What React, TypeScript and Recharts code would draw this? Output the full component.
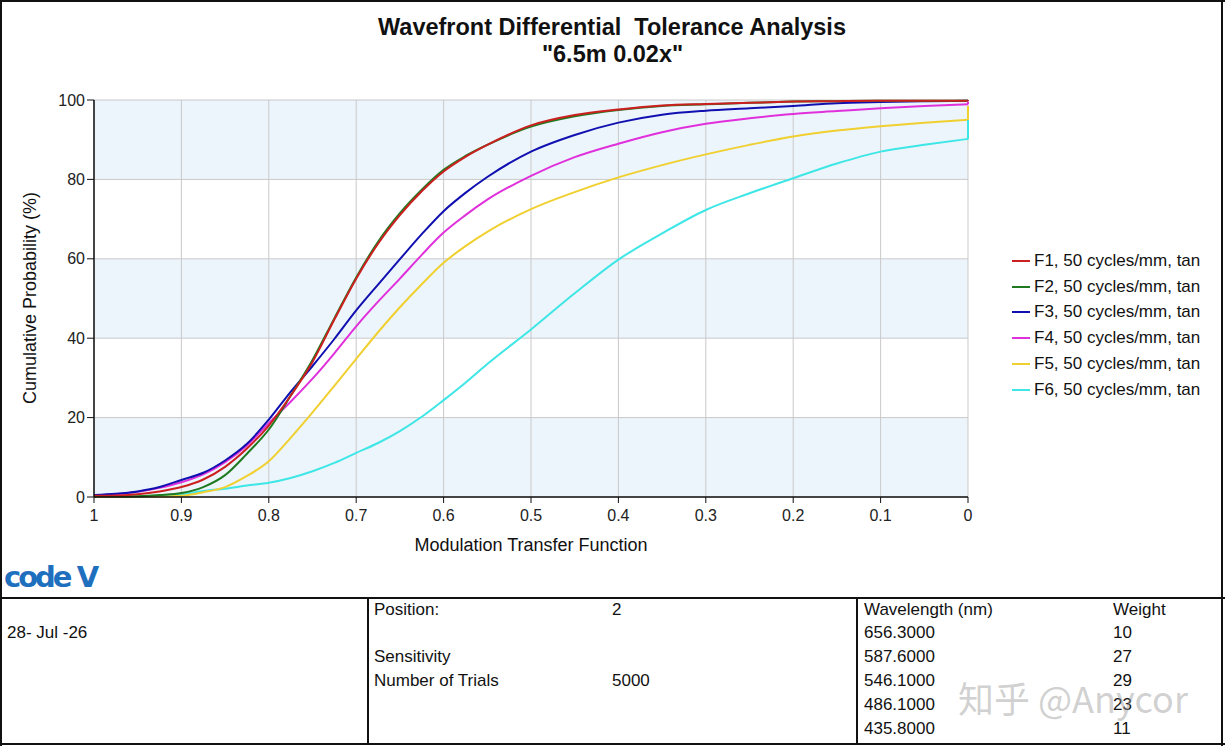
import React from 'react';
import { LineChart, Line, XAxis, YAxis, CartesianGrid, Legend } from 'recharts';

const FONT = '"Liberation Sans", Arial, sans-serif';

// MTF sample points (x axis runs from 1 down to 0)
const MTF = [
  1, 0.975, 0.95, 0.925, 0.9, 0.875, 0.85, 0.825, 0.8, 0.775, 0.75, 0.725, 0.7, 0.675, 0.65,
  0.625, 0.6, 0.575, 0.55, 0.5, 0.45, 0.4, 0.35, 0.3, 0.25, 0.2, 0.15, 0.1, 0.05, 0,
];

// cumulative probability (%) per field
const F1 = [
  0.3, 0.4, 0.7, 1.4, 2.5, 4.4, 7.6, 12.2, 18.0, 25.5, 34.0, 44.7, 55.0, 63.8, 71.0,
  77.0, 82.0, 85.7, 88.7, 93.6, 96.2, 97.6, 98.6, 99.0, 99.3, 99.6, 99.7, 99.8, 99.8, 99.8,
];
const F2 = [
  0.1, 0.1, 0.2, 0.5, 1.0, 2.5, 5.5, 10.9, 17.0, 25.5, 34.5, 45.0, 55.3, 64.3, 71.5,
  77.4, 82.4, 85.9, 88.7, 93.3, 95.9, 97.5, 98.5, 98.9, 99.3, 99.6, 99.7, 99.8, 99.8, 99.8,
];
const F3 = [
  0.5, 0.8, 1.4, 2.5, 4.3, 6.1, 9.2, 13.4, 19.5, 26.5, 33.0, 39.8, 47.0, 53.5, 59.9,
  66.2, 72.0, 76.6, 80.6, 87.0, 91.2, 94.3, 96.3, 97.3, 97.9, 98.5, 99.2, 99.5, 99.7, 99.8,
];
const F4 = [
  0.4, 0.7, 1.3, 2.3, 3.7, 5.7, 8.8, 13.0, 18.6, 24.0, 29.8, 36.2, 43.0, 49.2, 55.0,
  61.0, 66.6, 71.0, 74.9, 80.9, 85.6, 89.0, 91.9, 94.0, 95.4, 96.5, 97.2, 97.9, 98.5, 98.9,
];
const F5 = [
  0, 0, 0.05, 0.1, 0.3, 1.2, 2.5, 5.3, 9.0, 14.9, 21.3, 28.0, 34.8, 41.5, 47.8,
  53.6, 59.0, 63.2, 66.8, 72.5, 76.8, 80.5, 83.6, 86.3, 88.7, 90.8, 92.3, 93.4, 94.3, 95.0,
];
const F6 = [
  0, 0.05, 0.1, 0.3, 0.7, 1.5, 2.1, 2.9, 3.6, 4.8, 6.5, 8.6, 11.1, 13.6, 16.6,
  20.2, 24.4, 28.8, 33.5, 42.2, 51.3, 59.8, 66.4, 72.3, 76.5, 80.3, 84.0, 87.0, 88.7, 90.2,
];
// value each curve jumps to at MTF = 0
const END_VALUES = [100, 100, 100, 99.6, 98.5, 95];

const SERIES_NAMES = [
  'F1, 50 cycles/mm, tan',
  'F2, 50 cycles/mm, tan',
  'F3, 50 cycles/mm, tan',
  'F4, 50 cycles/mm, tan',
  'F5, 50 cycles/mm, tan',
  'F6, 50 cycles/mm, tan',
];
const SERIES_COLORS = ['#cc1f1f', '#1f7a1f', '#1010b0', '#e030dc', '#f0d030', '#3ee6e6'];

const X_TICKS = [1, 0.9, 0.8, 0.7, 0.6, 0.5, 0.4, 0.3, 0.2, 0.1, 0];
const Y_TICKS = [0, 20, 40, 60, 80, 100];

const INFO_LABELS = ['Position:', '', 'Sensitivity', 'Number of Trials'];
const INFO_VALUES = ['2', '', '', '5000'];
const WAVELENGTHS = ['656.3000', '587.6000', '546.1000', '486.1000', '435.8000'];
const WEIGHTS = ['10', '27', '29', '23', '11'];

const SERIES = [F1, F2, F3, F4, F5, F6].map((vals, i) => ({
  name: SERIES_NAMES[i],
  color: SERIES_COLORS[i],
  data: MTF.map((m, j) => ({ mtf: m, p: vals[j] })),
  tail: [
    { mtf: 0, p: vals[vals.length - 1] },
    { mtf: 0, p: END_VALUES[i] },
  ],
}));

const ROW_Y = [610, 633, 657, 681, 705, 729];

function Txt({ x, y, children, size = 17 }: { x: number; y: number; children: React.ReactNode; size?: number }) {
  return (
    <div
      style={{
        position: 'absolute',
        left: x,
        top: y - 10,
        height: 20,
        lineHeight: '20px',
        fontSize: size,
        fontFamily: FONT,
        color: '#111',
        whiteSpace: 'nowrap',
      }}
    >
      {children}
    </div>
  );
}

function Rule({ x, y, w, h }: { x: number; y: number; w: number; h: number }) {
  return <div style={{ position: 'absolute', left: x, top: y, width: w, height: h, background: '#111' }} />;
}

function renderLegend() {
  return (
    <div style={{ fontFamily: FONT, fontSize: 17, color: '#111' }}>
      {SERIES.map((s) => (
        <div key={s.name} style={{ display: 'flex', alignItems: 'center', height: 25.8 }}>
          <span style={{ display: 'inline-block', width: 18, height: 2, background: s.color, marginRight: 4 }} />
          <span>{s.name}</span>
        </div>
      ))}
    </div>
  );
}

export default function App() {
  return (
    <div
      style={{
        position: 'fixed',
        left: 0,
        top: 0,
        width: 1225,
        height: 746,
        background: '#fff',
        fontFamily: FONT,
        overflow: 'hidden',
      }}
    >
      <div
        style={{
          position: 'absolute',
          left: 0,
          top: 14,
          width: 1225,
          textAlign: 'center',
          fontWeight: 'bold',
          fontSize: 23.5,
          lineHeight: '27px',
          color: '#111',
        }}
      >
        <div style={{ marginLeft: -1 }}>Wavefront Differential&nbsp; Tolerance Analysis</div>
        <div>"6.5m 0.02x"</div>
      </div>

      <div style={{ position: 'absolute', left: 0, top: 0 }}>
        <LineChart width={1225} height={600} margin={{ top: 100, right: 257, bottom: 73, left: 34 }}>
          <CartesianGrid
            stroke="#c9c9c9"
            strokeWidth={1}
            horizontalFill={['#edf5fc', '#ffffff']}
            fillOpacity={1}
          />
          <XAxis
            dataKey="mtf"
            type="number"
            domain={[0, 1]}
            reversed
            ticks={X_TICKS}
            interval={0}
            height={30}
            tickFormatter={(v) => String(v)}
            axisLine={{ stroke: '#111', strokeWidth: 1.5 }}
            tickLine={{ stroke: '#111' }}
            tickSize={6}
            tickMargin={7}
            tick={{ fill: '#222', fontSize: 16, fontFamily: FONT }}
            label={{
              value: 'Modulation Transfer Function',
              content: () => (
                <text x={531} y={545} textAnchor="middle" dominantBaseline="central" fontSize={18} fontFamily={FONT} fill="#111">
                  Modulation Transfer Function
                </text>
              ),
            }}
          />
          <YAxis
            type="number"
            domain={[0, 100]}
            ticks={Y_TICKS}
            interval={0}
            width={60}
            axisLine={{ stroke: '#111', strokeWidth: 1.5 }}
            tickLine={{ stroke: '#111' }}
            tickSize={7}
            tick={{ fill: '#222', fontSize: 16, fontFamily: FONT }}
            label={{
              value: 'Cumulative Probability (%)',
              content: () => (
                <text
                  x={30}
                  y={298}
                  transform="rotate(-90 30 298)"
                  textAnchor="middle"
                  dominantBaseline="central"
                  fontSize={18}
                  fontFamily={FONT}
                  fill="#111"
                >
                  Cumulative Probability (%)
                </text>
              ),
            }}
          />
          <Legend
            layout="vertical"
            align="center"
            verticalAlign="middle"
            wrapperStyle={{ left: 1012, top: 248, width: 210 }}
            content={renderLegend}
          />
          {[...SERIES].reverse().map((s) => (
            <Line
              key={s.name}
              name={s.name}
              data={s.data}
              dataKey="p"
              type="monotone"
              stroke={s.color}
              strokeWidth={2}
              dot={false}
              activeDot={false}
              isAnimationActive={false}
            />
          ))}
          {[...SERIES].reverse().map((s) => (
            <Line
              key={s.name + '-end'}
              name={s.name + ' end'}
              data={s.tail}
              dataKey="p"
              type="linear"
              stroke={s.color}
              strokeWidth={2}
              dot={false}
              activeDot={false}
              legendType="none"
              isAnimationActive={false}
            />
          ))}
        </LineChart>
      </div>

      {/* code V logo */}
      <div
        style={{
          position: 'absolute',
          left: 4,
          top: 560,
          fontFamily: '"DejaVu Sans", sans-serif',
          fontWeight: 'bold',
          fontSize: 29,
          letterSpacing: -3,
          color: '#1f6fbf',
          lineHeight: '34px',
        }}
      >
        code V
      </div>

      {/* frame and table rules */}
      <Rule x={0} y={0} w={1225} h={2} />
      <Rule x={0} y={0} w={2} h={746} />
      <Rule x={1221} y={0} w={2} h={746} />
      <Rule x={0} y={597} w={1225} h={2} />
      <Rule x={0} y={743} w={1225} h={2} />
      <Rule x={367} y={597} w={2} h={148} />
      <Rule x={856} y={597} w={2} h={148} />

      <Txt x={7} y={633}>28- Jul -26</Txt>
      {INFO_LABELS.map((label, i) =>
        label ? (
          <Txt key={'l' + i} x={374} y={ROW_Y[i]}>
            {label}
          </Txt>
        ) : null
      )}
      {INFO_VALUES.map((value, i) =>
        value ? (
          <Txt key={'v' + i} x={612} y={ROW_Y[i]}>
            {value}
          </Txt>
        ) : null
      )}
      <Txt x={864} y={ROW_Y[0]}>Wavelength (nm)</Txt>
      <Txt x={1113} y={ROW_Y[0]}>Weight</Txt>
      {WAVELENGTHS.map((w, i) => (
        <React.Fragment key={w}>
          <Txt x={864} y={ROW_Y[i + 1]}>{w}</Txt>
          <Txt x={1113} y={ROW_Y[i + 1]}>{WEIGHTS[i]}</Txt>
        </React.Fragment>
      ))}

      {/* watermark */}
      <div
        style={{
          position: 'absolute',
          left: 958,
          top: 676,
          fontSize: 36,
          lineHeight: '42px',
          fontFamily: '"Noto Sans CJK SC", "Liberation Sans", sans-serif',
          color: 'rgba(150,150,150,0.45)',
          whiteSpace: 'nowrap',
        }}
      >
        知乎 @Anycor
      </div>
    </div>
  );
}
